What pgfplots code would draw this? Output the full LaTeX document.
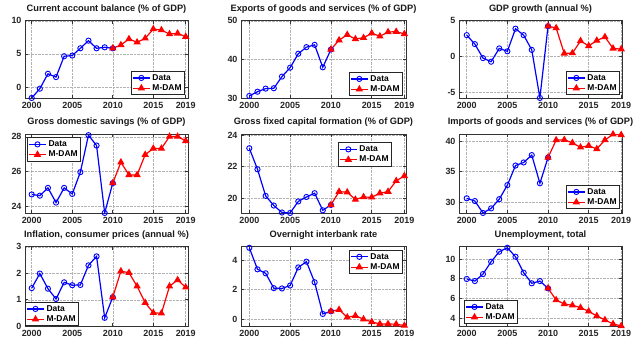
\documentclass[border=0pt]{standalone}
\usepackage{fontspec}
\setmainfont{Liberation Sans}
\usepackage{pgfplots}
\pgfplotsset{compat=1.18}
\definecolor{mblue}{rgb}{0,0,1}
\definecolor{mred}{rgb}{1,0,0}

\pgfplotsset{
  panel/.style={
    scale only axis, anchor=south west,
    axis line style={black!80, line width=0.9bp},
    tick style={black!80, line width=0.6bp},
    major tick length=3bp, tick align=inside,
    xtick={2000,2005,2010,2015,2019},
    xticklabels={2000,2005,2010,2015,2019},
    grid=major,
    major grid style={densely dotted, black!30, line width=0.5bp},
    tick label style={font=\fontsize{9}{10}\selectfont\bfseries, text=black!85},
    /pgf/number format/assume math mode=true,
    title style={font=\fontsize{9.3}{10}\selectfont\bfseries, text=black!90, yshift=-1.8bp},
    legend style={font=\fontsize{8.5}{10}\selectfont\bfseries, draw=black!85,
      line width=0.8bp, inner sep=1bp, row sep=-1bp},
    legend cell align=left,
  },
  data/.style={mblue, line width=1.2bp, mark=o, mark size=2.6bp, mark options={line width=0.9bp}},
  mdam/.style={mred, line width=1.2bp, mark=triangle*, mark size=3.1bp},
}

\begin{document}
\begin{tikzpicture}
\path[use as bounding box] (0,0) rectangle (643bp,355bp);

% ---- row 1 ----
\begin{axis}[panel, at={(25bp,256.7bp)}, width=163bp, height=77.5bp,
  xmin=1999.17, xmax=2019.28, ymin=-1.7, ymax=10, ytick={0,5,10},
  title={Current account balance (\% of GDP)},
  legend style={at={(1,0)}, anchor=south east, xshift=-3bp, yshift=3bp}]
\addplot[data] coordinates {(2000,-1.65)(2001,-0.25)(2002,2.0)(2003,1.5)(2004,4.65)(2005,4.75)(2006,5.85)(2007,7.0)(2008,5.85)(2009,6.0)(2010,5.85)};
\addplot[mdam] coordinates {(2010,5.85)(2011,6.35)(2012,7.25)(2013,6.75)(2014,7.35)(2015,8.75)(2016,8.6)(2017,8.0)(2018,8.1)(2019,7.6)};
\legend{Data,M-DAM}
\end{axis}

\begin{axis}[panel, at={(241bp,256.7bp)}, width=165bp, height=77.5bp,
  xmin=1998.98, xmax=2019.2, ymin=30, ymax=50, ytick={30,40,50},
  title={Exports of goods and services (\% of GDP)},
  legend style={at={(1,0)}, anchor=south east, xshift=-3bp, yshift=2bp}]
\addplot[data] coordinates {(2000,30.6)(2001,31.7)(2002,32.5)(2003,32.6)(2004,35.6)(2005,37.9)(2006,41.5)(2007,43.2)(2008,43.8)(2009,38.0)(2010,42.6)};
\addplot[mdam] coordinates {(2010,42.6)(2011,45.0)(2012,46.4)(2013,45.3)(2014,45.6)(2015,46.8)(2016,46.0)(2017,47.1)(2018,47.2)(2019,46.6)};
\legend{Data,M-DAM}
\end{axis}

\begin{axis}[panel, at={(459bp,256.7bp)}, width=163bp, height=77.5bp,
  xmin=1999.05, xmax=2019.1, ymin=-5.8, ymax=5, ytick={-5,0,5},
  title={GDP growth (annual \%)},
  legend style={at={(1,0)}, anchor=south east, xshift=-2bp, yshift=3bp}]
\addplot[data] coordinates {(2000,3.0)(2001,1.75)(2002,-0.2)(2003,-0.7)(2004,1.15)(2005,0.75)(2006,3.9)(2007,3.0)(2008,0.95)(2009,-5.75)(2010,4.25)};
\addplot[mdam] coordinates {(2010,4.25)(2011,4.0)(2012,0.45)(2013,0.5)(2014,2.2)(2015,1.5)(2016,2.25)(2017,2.75)(2018,1.15)(2019,1.05)};
\legend{Data,M-DAM}
\end{axis}

% ---- row 2 ----
\begin{axis}[panel, at={(25bp,141.7bp)}, width=163bp, height=79bp,
  xmin=1999.17, xmax=2019.28, ymin=23.58, ymax=28.15, ytick={24,26,28},
  title={Gross domestic savings (\% of GDP)},
  legend style={at={(0,1)}, anchor=north west, xshift=2bp, yshift=-3bp}]
\addplot[data] coordinates {(2000,24.67)(2001,24.6)(2002,25.05)(2003,24.2)(2004,25.05)(2005,24.7)(2006,25.96)(2007,28.1)(2008,27.5)(2009,23.6)(2010,25.33)};
\addplot[mdam] coordinates {(2010,25.33)(2011,26.53)(2012,25.8)(2013,25.8)(2014,26.97)(2015,27.33)(2016,27.33)(2017,28.02)(2018,28.02)(2019,27.77)};
\legend{Data,M-DAM}
\end{axis}

\begin{axis}[panel, at={(241bp,141.7bp)}, width=165bp, height=79bp,
  xmin=1998.98, xmax=2019.2, ymin=19.05, ymax=24.04, ytick={20,22,24},
  title={Gross fixed capital formation (\% of GDP)},
  legend style={at={(1,1)}, anchor=north east, xshift=-14bp, yshift=-8bp}]
\addplot[data] coordinates {(2000,23.16)(2001,21.83)(2002,20.15)(2003,19.54)(2004,19.1)(2005,19.07)(2006,19.8)(2007,20.08)(2008,20.32)(2009,19.24)(2010,19.58)};
\addplot[mdam] coordinates {(2010,19.58)(2011,20.42)(2012,20.38)(2013,19.92)(2014,20.08)(2015,20.06)(2016,20.32)(2017,20.42)(2018,21.1)(2019,21.41)};
\legend{Data,M-DAM}
\end{axis}

\begin{axis}[panel, at={(459bp,141.7bp)}, width=163bp, height=79bp,
  xmin=1999.05, xmax=2019.1, ymin=28.2, ymax=41.1, ytick={30,35,40},
  title={Imports of goods and services (\% of GDP)},
  legend style={at={(1,0)}, anchor=south east, xshift=-2bp, yshift=4bp}]
\addplot[data] coordinates {(2000,30.65)(2001,30.2)(2002,28.26)(2003,29.0)(2004,30.5)(2005,32.8)(2006,36.0)(2007,36.5)(2008,37.7)(2009,33.1)(2010,37.3)};
\addplot[mdam] coordinates {(2010,37.3)(2011,40.16)(2012,40.2)(2013,39.7)(2014,38.97)(2015,39.24)(2016,38.7)(2017,40.16)(2018,41.1)(2019,41.0)};
\legend{Data,M-DAM}
\end{axis}

% ---- row 3 ----
\begin{axis}[panel, at={(25bp,28.7bp)}, width=163bp, height=79.5bp,
  xmin=1999.17, xmax=2019.28, ymin=0, ymax=3, ytick={0,1,2,3},
  title={Inflation, consumer prices (annual \%)},
  legend style={at={(0,0)}, anchor=south west}]
\addplot[data] coordinates {(2000,1.44)(2001,1.99)(2002,1.42)(2003,1.03)(2004,1.66)(2005,1.55)(2006,1.56)(2007,2.3)(2008,2.64)(2009,0.32)(2010,1.1)};
\addplot[mdam] coordinates {(2010,1.1)(2011,2.08)(2012,2.02)(2013,1.51)(2014,0.89)(2015,0.51)(2016,0.49)(2017,1.51)(2018,1.75)(2019,1.47)};
\legend{Data,M-DAM}
\end{axis}

\begin{axis}[panel, at={(241bp,28.7bp)}, width=165bp, height=79.5bp,
  xmin=1998.98, xmax=2019.2, ymin=-0.5, ymax=4.9, ytick={0,2,4},
  title={Overnight interbank rate},
  legend style={at={(1,1)}, anchor=north east, xshift=-3bp, yshift=-3bp}]
\addplot[data] coordinates {(2000,4.83)(2001,3.37)(2002,3.1)(2003,2.09)(2004,2.07)(2005,2.27)(2006,3.5)(2007,3.89)(2008,2.49)(2009,0.34)(2010,0.52)};
\addplot[mdam] coordinates {(2010,0.52)(2011,0.63)(2012,0.11)(2013,0.22)(2014,-0.02)(2015,-0.2)(2016,-0.34)(2017,-0.34)(2018,-0.36)(2019,-0.45)};
\legend{Data,M-DAM}
\end{axis}

\begin{axis}[panel, at={(459bp,28.7bp)}, width=163bp, height=79.5bp,
  xmin=1999.05, xmax=2019.1, ymin=3.15, ymax=11.25, ytick={4,6,8,10},
  title={Unemployment, total},
  legend style={at={(0,0)}, anchor=south west, xshift=5bp, yshift=2bp}]
\addplot[data] coordinates {(2000,7.97)(2001,7.76)(2002,8.47)(2003,9.73)(2004,10.75)(2005,11.15)(2006,10.24)(2007,8.61)(2008,7.53)(2009,7.76)(2010,7.02)};
\addplot[mdam] coordinates {(2010,7.02)(2011,5.83)(2012,5.42)(2013,5.29)(2014,5.05)(2015,4.68)(2016,4.2)(2017,3.8)(2018,3.39)(2019,3.19)};
\legend{Data,M-DAM}
\end{axis}
\end{tikzpicture}
\end{document}
